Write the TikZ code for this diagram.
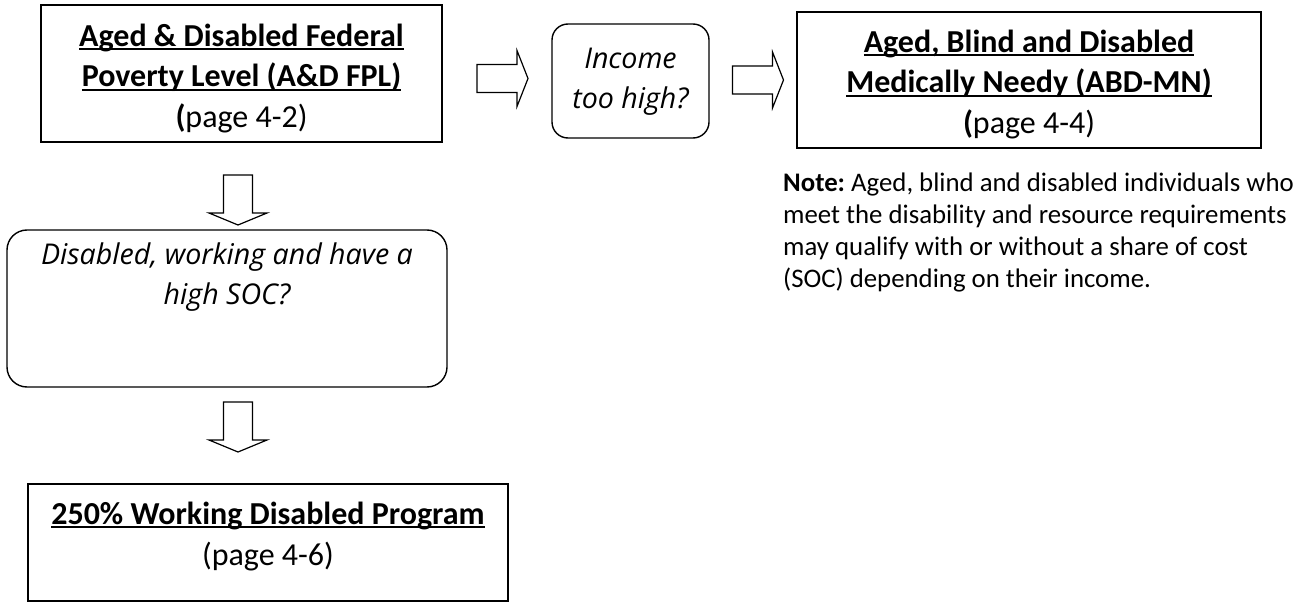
\documentclass[tikz,border=0pt]{standalone}
\usepackage{fontspec}
\setmainfont{Carlito}
\newfontfamily\qfont{Open Sans}
\frenchspacing
\newcommand\myul[1]{\setbox0\hbox{#1}\rlap{\rule[-3.6pt]{\wd0}{2pt}}\box0}
\tikzset{
  boxsq/.style={draw=black, line width=1.6pt, rectangle, inner sep=0pt},
  boxrd/.style={draw=black, line width=1.4pt, rectangle, rounded corners=16pt, inner sep=0pt},
  boxtext/.style={align=center, inner sep=0pt, font=\fontsize{32}{40.5}\selectfont},
  qtext/.style={align=center, inner sep=0pt, font=\qfont\itshape\fontsize{28.6}{39.5}\selectfont},
  notetext/.style={align=left, inner sep=0pt, anchor=north west, font=\fontsize{26.8}{31.8}\selectfont},
  blockarrow/.style={draw=black, line width=1.2pt, fill=white, line join=miter}
}
\begin{document}
\begin{tikzpicture}[x=1pt,y=-1pt]
\useasboundingbox (0,0) rectangle (1302,602);
% boxes
\node[boxsq, minimum width=401pt, minimum height=137pt] (b1) at (241.5,73.5) {};
\node[boxrd, minimum width=157pt, minimum height=114pt] (b2) at (630.5,81) {};
\node[boxsq, minimum width=464pt, minimum height=136pt] (b3) at (1029,80) {};
\node[boxrd, rounded corners=20pt, minimum width=440pt, minimum height=157pt] (b4) at (227,308.5) {};
\node[boxsq, minimum width=480pt, minimum height=117pt] (b5) at (268,542.5) {};
% texts
\node[boxtext] (t1) at (b1.center) [yshift=-5pt] {\textbf{\myul{Aged \& Disabled Federal}}\\ \textbf{\myul{Poverty Level (A\&D FPL)}}\\ \textbf{(}page 4-2)};
\node[qtext] (t2) at (b2.center) [yshift=-0.5pt] {Income\\ too high?};
\node[boxtext] (t3) at (b3.center) [yshift=-4.5pt] {\textbf{\myul{Aged, Blind and Disabled}}\\ \textbf{\myul{Medically Needy (ABD-MN)}}\\ \textbf{(}page 4-4)};
\node[qtext] (t4) at (227,277) {Disabled, working and have a\\ high SOC?};
\node[boxtext] (t5) at (268,536.5) {\textbf{\myul{250\% Working Disabled Program}}\\ (page 4-6)};
\node[notetext] (note) at (783,173) {\textbf{Note:} Aged, blind and disabled individuals who\\ meet the disability and resource requirements\\ may qualify with or without a share of cost\\ (SOC) depending on their income.};
% block arrows
\coordinate (a1) at (502.5,78.5);
\coordinate (a2) at (758,80);
\coordinate (d1) at (238,175);
\coordinate (d2) at (238,402);
\foreach \p in {a1,a2}{
  \draw[blockarrow, shift={(\p)}] (-25.5,-14) -- (14.5,-14) -- (14.5,-28) -- (25.5,0) -- (14.5,28) -- (14.5,14) -- (-25.5,14) -- cycle;
}
\foreach \p in {d1,d2}{
  \draw[blockarrow, shift={(\p)}] (-14.5,0) -- (-14.5,38) -- (-29,38) -- (0,50) -- (29,38) -- (14.5,38) -- (14.5,0) -- cycle;
}
\end{tikzpicture}
\end{document}
